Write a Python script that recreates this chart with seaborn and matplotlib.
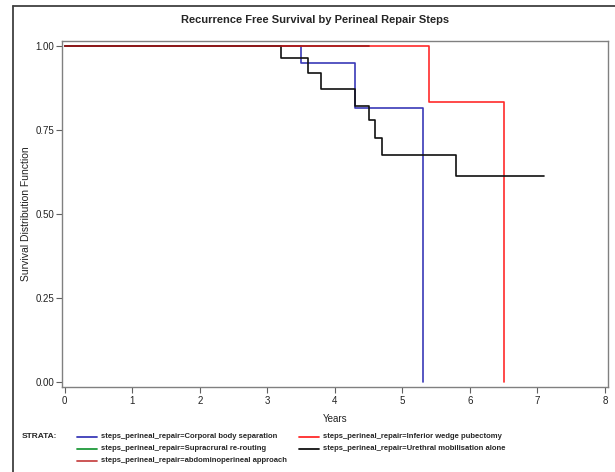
import matplotlib
matplotlib.use("Agg")
import matplotlib.pyplot as plt
import pandas as pd
import seaborn as sns
from matplotlib.lines import Line2D

# Kaplan-Meier step curves
strata = [
    "Corporal body separation",
    "Inferior wedge pubectomy",
    "Supracrural re-routing",
    "Urethral mobilisation alone",
    "abdominoperineal approach",
]
corporal_t = [0, 3.5, 4.3, 5.3]
corporal_s = [1.0, 0.951, 0.815, 0.0]
inferior_t = [0, 5.4, 6.5]
inferior_s = [1.0, 0.833, 0.0]
supracrural_t = [0, 3.0]
supracrural_s = [1.0, 1.0]
urethral_t = [0, 3.2, 3.6, 3.8, 4.3, 4.5, 4.6, 4.7, 5.8, 7.1]
urethral_s = [1.0, 0.964, 0.920, 0.872, 0.822, 0.779, 0.728, 0.676, 0.615, 0.615]
abdomino_t = [0, 4.5]
abdomino_s = [1.0, 1.0]

x_ticks = [0, 1, 2, 3, 4, 5, 6, 7, 8]
y_ticks = [0.0, 0.25, 0.5, 0.75, 1.0]

colors = {
    "Corporal body separation": "#3a3ab8",
    "Inferior wedge pubectomy": "#ff2a2a",
    "Supracrural re-routing": "#1f9a3a",
    "Urethral mobilisation alone": "#111111",
    "abdominoperineal approach": "#a01c1c",
}
legend_colors = dict(colors)
legend_colors["abdominoperineal approach"] = "#c84848"

curves = {
    "Corporal body separation": (corporal_t, corporal_s),
    "Inferior wedge pubectomy": (inferior_t, inferior_s),
    "Supracrural re-routing": (supracrural_t, supracrural_s),
    "Urethral mobilisation alone": (urethral_t, urethral_s),
    "abdominoperineal approach": (abdomino_t, abdomino_s),
}

sns.set_style("white")
plt.rcParams["font.family"] = ["Liberation Sans", "DejaVu Sans"]

fig = plt.figure(figsize=(6.15, 4.72), dpi=100)
ax = fig.add_axes([0.1013, 0.1794, 0.8867, 0.7337])

# draw order so the dark red sits on top of black at 1.00
draw_order = ["Supracrural re-routing", "Corporal body separation",
              "Inferior wedge pubectomy", "Urethral mobilisation alone",
              "abdominoperineal approach"]
for name in draw_order:
    t, s = curves[name]
    df = pd.DataFrame({"time": t, "surv": s})
    sns.lineplot(data=df, x="time", y="surv", ax=ax, color=colors[name],
                 drawstyle="steps-post", estimator=None, linewidth=1.2)

ax.set_xlim(-0.036, 8.04)
ax.set_ylim(-0.015, 1.015)
ax.set_xticks(x_ticks)
ax.set_xticklabels([str(v) for v in x_ticks])
ax.set_yticks(y_ticks)
ax.set_yticklabels([f"{v:.2f}" for v in y_ticks])
ax.tick_params(axis="both", direction="out", length=4, width=0.8, color="#606060",
               labelsize=7, labelcolor="#222222", pad=2, left=True, bottom=True)
for sp in ax.spines.values():
    sp.set_color("#808080")
    sp.set_linewidth(1.0)
ax.set_xlabel("Years", fontsize=7, color="#222222", labelpad=6)
ax.set_ylabel("Survival Distribution Function", fontsize=7.5, color="#222222", labelpad=3)

fig.text(315 / 615, 1 - 20 / 472, "Recurrence Free Survival by Perineal Repair Steps",
         ha="center", va="center", fontsize=8, fontweight="bold")

# outer frame (left and top only visible)
fig.add_artist(Line2D([13 / 615, 13 / 615], [0, 1 - 6 / 472], color="#404040",
                      linewidth=1.3, transform=fig.transFigure))
fig.add_artist(Line2D([13 / 615, 1], [1 - 6 / 472, 1 - 6 / 472], color="#404040",
                      linewidth=1.3, transform=fig.transFigure))

# legend block
fig.text(22 / 615, 1 - 437 / 472, "STRATA:", ha="left", va="center",
         fontsize=6, fontweight="bold")
legend_pos = [
    ("Corporal body separation", 77, 437),
    ("Supracrural re-routing", 77, 449),
    ("abdominoperineal approach", 77, 461),
    ("Inferior wedge pubectomy", 299, 437),
    ("Urethral mobilisation alone", 299, 449),
]
for name, lx, ly in legend_pos:
    yy = 1 - ly / 472
    fig.add_artist(Line2D([lx / 615, (lx + 20) / 615], [yy, yy],
                          color=legend_colors[name], linewidth=1.3,
                          transform=fig.transFigure))
    fig.text((lx + 24) / 615, yy, f"steps_perineal_repair={name}", ha="left",
             va="center", fontsize=5.5, fontweight="bold")

fig.savefig("out.png", dpi=100)
